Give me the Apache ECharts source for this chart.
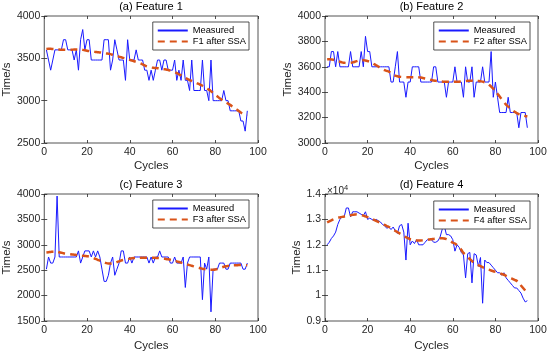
<!DOCTYPE html>
<html><head><meta charset="utf-8">
<script src="https://cdn.jsdelivr.net/npm/echarts@6/dist/echarts.min.js"></script>
<style>html,body{margin:0;padding:0;background:#fff}#c{width:550px;height:357px}</style>
</head><body><div id="c"></div>
<script>
// ---------- data (cycle index = position + 1) ----------
const f1Measured = [3600,3480,3360,3480,3600,3600,3600,3600,3720,3720,
3600,3600,3600,3480,3600,3360,3720,3840,3600,3720,
3720,3480,3480,3480,3480,3480,3480,3720,3720,3720,
3360,3480,3720,3600,3480,3480,3480,3240,3720,3480,
3480,3480,3600,3480,3480,3480,3360,3360,3240,3360,
3240,3360,3480,3480,3360,3480,3480,3360,3360,3360,
3480,3240,3360,3240,3480,3240,3240,3120,3480,3120,
3120,3120,3120,3480,3120,3120,3000,3480,3000,3000,
3000,3000,3000,3120,3000,3000,2880,2880,2880,2880,
2880,2760,2760,2640,2880];
const f1SSA = [3610,3612,3612,3610,3608,3605,3603,3600,3600,3600,
3600,3600,3602,3604,3605,3605,3603,3600,3595,3590,
3585,3580,3578,3575,3572,3570,3566,3562,3558,3555,
3550,3542,3535,3528,3520,3512,3505,3498,3490,3482,
3474,3466,3458,3450,3440,3428,3416,3405,3398,3392,
3388,3386,3384,3380,3376,3372,3368,3362,3355,3348,
3338,3326,3312,3298,3284,3270,3256,3244,3232,3222,
3212,3200,3188,3176,3160,3145,3130,3112,3092,3070,
3050,3030,3012,2995,2980,2965,2950,2930,2912,2895,
2878,2860,2845,2836,2830];
const f2Measured = [3600,3600,3720,3720,3600,3720,3600,3600,3600,3600,
3600,3720,3600,3600,3600,3600,3720,3600,3840,3720,
3720,3600,3600,3600,3600,3600,3600,3600,3600,3600,
3480,3480,3600,3720,3480,3480,3480,3360,3480,3480,
3600,3600,3600,3600,3480,3480,3480,3480,3480,3480,
3600,3600,3480,3480,3480,3480,3360,3480,3480,3480,
3600,3480,3480,3480,3360,3600,3480,3480,3600,3360,
3480,3480,3480,3600,3480,3480,3480,3720,3360,3480,
3360,3240,3240,3240,3240,3360,3240,3240,3240,3240,
3120,3240,3240,3240,3120];
const f2SSA = [3660,3660,3658,3655,3650,3645,3640,3635,3632,3630,
3630,3632,3635,3640,3645,3650,3652,3652,3650,3645,
3640,3632,3622,3612,3602,3592,3582,3574,3568,3562,
3548,3538,3530,3526,3522,3520,3518,3518,3518,3518,
3518,3518,3518,3517,3515,3512,3508,3505,3500,3496,
3492,3490,3488,3486,3484,3482,3482,3482,3482,3482,
3482,3482,3483,3484,3486,3488,3490,3491,3491,3490,
3489,3488,3486,3483,3478,3470,3458,3444,3428,3410,
3388,3366,3344,3322,3302,3286,3272,3258,3246,3236,
3228,3222,3216,3212,3208];
const f3Measured = [2520,2760,2640,2640,2760,3960,2760,2760,2760,2760,
2760,2760,2760,2760,2760,2880,2640,2760,2880,2880,
2880,2760,2880,2760,2880,2760,2520,2280,2280,2400,
2640,2760,2400,2520,2640,2880,2880,2640,2640,2760,
2640,2760,2760,2760,2760,2760,2760,2760,2640,2760,
2640,2760,2760,2880,2760,2760,2760,2760,2640,2640,
2760,2640,2640,2640,2760,2160,2640,2760,2760,2760,
2760,2760,2760,1920,2640,2520,2760,1680,2520,2520,
2520,2640,2640,2640,2520,2520,2640,2640,2640,2640,
2640,2640,2520,2520,2640];
const f3SSA = [2850,2855,2860,2865,2868,2865,2855,2845,2835,2828,
2822,2816,2810,2805,2800,2795,2790,2785,2780,2775,
2768,2755,2740,2722,2705,2688,2670,2655,2640,2632,
2630,2635,2645,2660,2675,2690,2702,2712,2720,2728,
2734,2738,2740,2742,2744,2745,2746,2746,2746,2745,
2744,2742,2740,2737,2733,2728,2722,2714,2705,2695,
2685,2674,2662,2650,2638,2625,2612,2600,2588,2575,
2562,2550,2540,2530,2522,2515,2510,2508,2510,2515,
2525,2540,2555,2568,2578,2585,2590,2594,2596,2598,
2600,2600,2600,2598,2596];
const f4Measured = [12000,12100,12250,12350,12500,12800,13000,13100,13100,13450,
13450,13100,13300,13300,13300,13250,13200,13150,13300,13000,
13050,13000,12950,13000,12950,12900,12800,12750,12650,12700,
12600,12700,12550,12450,12750,12800,12500,11400,12850,12000,
12150,12050,12200,12000,12000,12000,12100,12200,12200,12200,
12100,12100,12150,12300,12600,12750,12400,12400,12350,12200,
11750,12000,11900,11700,11600,10700,11650,11700,10500,11650,
11600,11150,11500,9700,11400,11300,11300,11200,11100,11000,
10900,10900,10800,10900,10700,10600,10500,10400,10300,10300,
10200,10100,9900,9750,9800];
const f4SSA = [12880,12920,12960,13000,13030,13060,13080,13100,13110,13120,
13140,13160,13180,13190,13200,13190,13170,13150,13120,13090,
13060,13020,12980,12940,12900,12860,12820,12780,12740,12700,
12650,12600,12550,12500,12450,12400,12350,12300,12260,12220,
12200,12180,12170,12170,12170,12180,12190,12200,12210,12220,
12230,12240,12250,12260,12260,12250,12220,12180,12140,12080,
12050,11980,11900,11800,11680,11600,11520,11440,11360,11290,
11240,11200,11160,11120,11080,11050,11020,10990,10960,10940,
10910,10880,10850,10820,10780,10740,10700,10660,10620,10580,
10500,10400,10300,10200,10080];

const titles = ['(a) Feature 1','(b) Feature 2','(c) Feature 3','(d) Feature 4'];
const ssaNames = ['F1 after SSA','F2 after SSA','F3 after SSA','F4 after SSA'];
const measuredName = 'Measured';
const xName = 'Cycles';
const yName = 'Time/s';
const xTicks = [0,20,40,60,80,100];
const yRanges = [[2500,4000,500],[3000,4000,200],[1500,4000,500],[9000,14000,1000]];
const measuredSets = [f1Measured,f2Measured,f3Measured,f4Measured];
const ssaSets = [f1SSA,f2SSA,f3SSA,f4SSA];

// ---------- layout / style ----------
const FONT = 'Liberation Sans, Arial, sans-serif';
const TXT = '#262626';
const grids = [
  {left:44, top:16, width:214, height:127},
  {left:325, top:16, width:213, height:127},
  {left:44, top:194, width:214, height:127},
  {left:325, top:194, width:213, height:127}
];
const yNameGaps = [27,27,27,18];
const xNameGaps = [17,17,19,19];
const legendPos = [{right:301, top:22},{right:20, top:22},{right:301, top:200},{right:20, top:201}];

const xAxes = [], yAxes = [], series = [], legends = [], graphics = [];
grids.forEach((g, i) => {
  const [ymin, ymax, yint] = yRanges[i];
  const fmt = i === 3 ? (v => String(+(v/10000).toFixed(1))) : (v => String(v));
  xAxes.push({
    type:'value', gridIndex:i, min:xTicks[0], max:xTicks[xTicks.length-1], interval:20,
    name:xName, nameLocation:'middle', nameGap:xNameGaps[i],
    nameTextStyle:{fontFamily:FONT, fontSize:11.5, color:TXT},
    axisLine:{show:false}, splitLine:{show:false},
    axisTick:{inside:true, length:3, lineStyle:{color:TXT, width:0.8}},
    axisLabel:{fontFamily:FONT, fontSize:10.5, color:TXT, margin:4}
  });
  xAxes.push({
    type:'value', gridIndex:i, position:'top', min:xTicks[0], max:xTicks[xTicks.length-1], interval:20,
    axisLine:{show:false}, splitLine:{show:false}, axisLabel:{show:false},
    axisTick:{inside:true, length:3, lineStyle:{color:TXT, width:0.8}}
  });
  yAxes.push({
    type:'value', gridIndex:i, min:ymin, max:ymax, interval:yint,
    name:yName, nameLocation:'middle', nameGap:yNameGaps[i],
    nameTextStyle:{fontFamily:FONT, fontSize:11.5, color:TXT},
    axisLine:{show:false}, splitLine:{show:false},
    axisTick:{inside:true, length:3, lineStyle:{color:TXT, width:0.8}},
    axisLabel:{fontFamily:FONT, fontSize:10.5, color:TXT, margin:4, formatter:fmt}
  });
  yAxes.push({
    type:'value', gridIndex:i, position:'right', min:ymin, max:ymax, interval:yint,
    axisLine:{show:false}, splitLine:{show:false}, axisLabel:{show:false},
    axisTick:{inside:true, length:3, lineStyle:{color:TXT, width:0.8}}
  });
  series.push({
    name:measuredName, type:'line', xAxisIndex:2*i, yAxisIndex:2*i,
    data: measuredSets[i].map((v, k) => [k+1, v]),
    symbol:'none', lineStyle:{color:'#1a1aff', width:1}, itemStyle:{color:'#1a1aff'},
    animation:false, z:2
  });
  series.push({
    name:ssaNames[i], type:'line', xAxisIndex:2*i, yAxisIndex:2*i,
    data: ssaSets[i].map((v, k) => [k+1, v]), smooth:true,
    symbol:'none', lineStyle:{color:'#D95319', width:2.5, type:[7,5]}, itemStyle:{color:'#D95319'},
    animation:false, z:3
  });
  legends.push(Object.assign({
    data:[measuredName, ssaNames[i]], orient:'vertical',
    backgroundColor:'#fff', borderColor:TXT, borderWidth:0.8, borderRadius:0,
    padding:[4,3,4,4], itemGap:2, itemWidth:30, itemHeight:10,
    itemStyle:{color:'rgba(0,0,0,0)', borderWidth:0, opacity:0},
    textStyle:{fontFamily:FONT, fontSize:9.3, color:'#000'},
    selectedMode:false
  }, legendPos[i]));
  graphics.push({
    type:'text', x:g.left + g.width/2, y:g.top - 15,
    style:{text:titles[i], fontFamily:FONT, fontSize:11, fill:'#000', textAlign:'center', textVerticalAlign:'top'}
  });
});
graphics.push({
  type:'text', x:327, y:184,
  style:{text:'{a|×10}{b|4}', fontFamily:FONT, fill:TXT, textVerticalAlign:'top',
    rich:{a:{fontSize:10, fontFamily:FONT, fill:TXT, verticalAlign:'bottom', lineHeight:12},
          b:{fontSize:7.5, fontFamily:FONT, fill:TXT, verticalAlign:'top', lineHeight:12}}}
});

const chart = echarts.init(document.getElementById('c'), null, {renderer:'canvas'});
chart.setOption({
  animation:false,
  backgroundColor:'#fff',
  grid: grids.map(g => Object.assign({show:true, borderColor:TXT, borderWidth:0.8, backgroundColor:'transparent'}, g)),
  xAxis:xAxes, yAxis:yAxes, series:series, legend:legends, graphic:graphics
});
</script></body></html>
